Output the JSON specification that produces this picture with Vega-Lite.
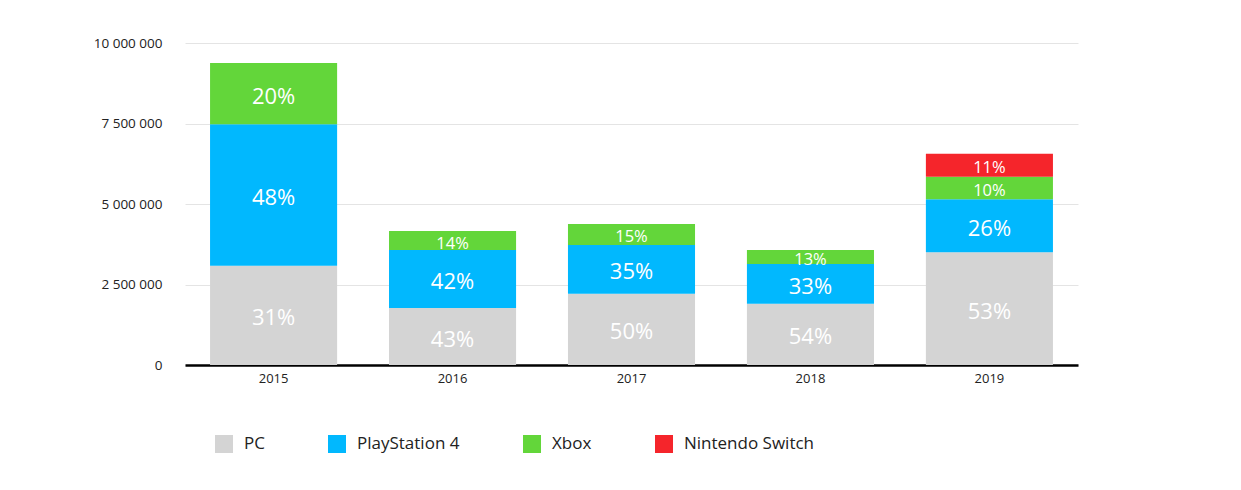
{
  "$schema": "https://vega.github.io/schema/vega-lite/v6.json",
  "autosize": {"type": "none"},
  "padding": {"left": 185, "top": 43, "right": 163, "bottom": 125},
  "width": 893,
  "height": 322,
  "background": "white",
  "config": {
    "view": {"stroke": null},
    "font": "Open Sans"
  },
  "data": {
    "values": [
      {"year": "2015", "platform": "PC", "value": 3080000, "label": "31%"},
      {"year": "2015", "platform": "PlayStation 4", "value": 4400000, "label": "48%"},
      {"year": "2015", "platform": "Xbox", "value": 1900000, "label": "20%"},
      {"year": "2016", "platform": "PC", "value": 1770000, "label": "43%"},
      {"year": "2016", "platform": "PlayStation 4", "value": 1800000, "label": "42%"},
      {"year": "2016", "platform": "Xbox", "value": 590000, "label": "14%"},
      {"year": "2017", "platform": "PC", "value": 2210000, "label": "50%"},
      {"year": "2017", "platform": "PlayStation 4", "value": 1520000, "label": "35%"},
      {"year": "2017", "platform": "Xbox", "value": 650000, "label": "15%"},
      {"year": "2018", "platform": "PC", "value": 1900000, "label": "54%"},
      {"year": "2018", "platform": "PlayStation 4", "value": 1240000, "label": "33%"},
      {"year": "2018", "platform": "Xbox", "value": 430000, "label": "13%"},
      {"year": "2019", "platform": "PC", "value": 3500000, "label": "53%"},
      {"year": "2019", "platform": "PlayStation 4", "value": 1650000, "label": "26%"},
      {"year": "2019", "platform": "Xbox", "value": 700000, "label": "10%"},
      {"year": "2019", "platform": "Nintendo Switch", "value": 710000, "label": "11%"}
    ]
  },
  "transform": [
    {"calculate": "indexof(['PC','PlayStation 4','Xbox','Nintendo Switch'], datum.platform)", "as": "rank"},
    {"stack": "value", "groupby": ["year"], "sort": [{"field": "rank", "order": "ascending"}], "as": ["y0", "y1"]},
    {"calculate": "(datum.y0 + datum.y1) / 2", "as": "ymid"}
  ],
  "encoding": {
    "x": {
      "field": "year",
      "type": "ordinal",
      "title": null,
      "scale": {"paddingInner": 0.29, "paddingOuter": 0.14},
      "axis": {
        "labelAngle": 0,
        "domainColor": "#000000",
        "domainWidth": 2.5,
        "ticks": false,
        "labelFontSize": 13,
        "labelColor": "#222222",
        "labelPadding": 7
      }
    }
  },
  "layer": [
    {
      "mark": {"type": "bar"},
      "encoding": {
        "y": {
          "field": "y0",
          "type": "quantitative",
          "title": null,
          "scale": {"domain": [0, 10000000]},
          "axis": {
            "values": [0, 2500000, 5000000, 7500000, 10000000],
            "labelExpr": "replace(format(datum.value, ','), regexp(',', 'g'), ' ')",
            "domain": false,
            "ticks": false,
            "gridColor": "#e4e4e4",
            "labelFontSize": 13.5,
            "labelColor": "#222222",
            "labelPadding": 23
          }
        },
        "y2": {"field": "y1"},
        "color": {
          "field": "platform",
          "type": "nominal",
          "title": null,
          "scale": {
            "domain": ["PC", "PlayStation 4", "Xbox", "Nintendo Switch"],
            "range": ["#d4d4d4", "#01b8fe", "#63d63a", "#f5252b"]
          },
          "legend": {
            "orient": "none",
            "legendX": 30,
            "legendY": 392,
            "direction": "horizontal",
            "symbolType": "square",
            "symbolSize": 324,
            "symbolStrokeWidth": 0,
            "labelFontSize": 17,
            "labelColor": "#222222",
            "labelOffset": 11,
            "columnPadding": 63
          }
        }
      }
    },
    {
      "mark": {"type": "text", "color": "white", "baseline": "middle", "align": "center", "dy": 3},
      "encoding": {
        "y": {"field": "ymid", "type": "quantitative"},
        "text": {"field": "label"},
        "size": {"condition": {"test": "datum.value < 800000", "value": 16.5}, "value": 22}
      }
    }
  ]
}
